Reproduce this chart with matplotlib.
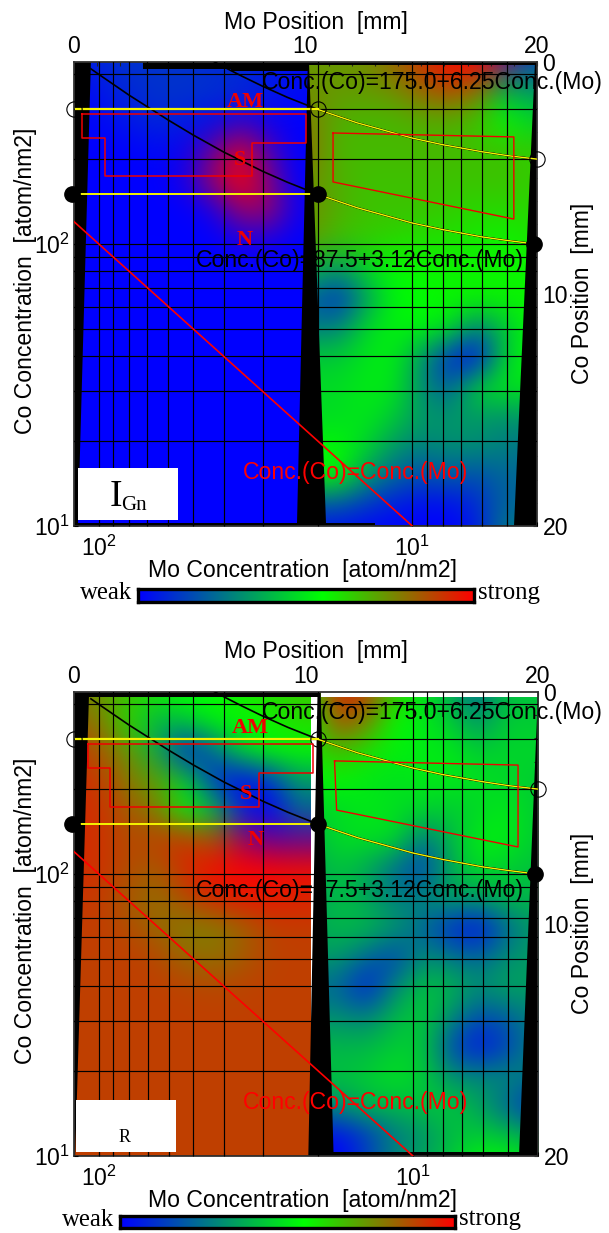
import matplotlib
matplotlib.use("Agg")
import matplotlib.pyplot as plt
from matplotlib.colors import LinearSegmentedColormap, Normalize
from matplotlib.patches import Rectangle
from matplotlib.ticker import LogLocator, NullFormatter, FixedLocator
import numpy as np

plt.rcParams['font.family'] = ['Liberation Sans', 'DejaVu Sans']
plt.rcParams['mathtext.fontset'] = 'custom'
plt.rcParams['mathtext.rm'] = 'Liberation Sans'
plt.rcParams['mathtext.default'] = 'regular'

# ---------- data (heat: 0 blue, .5 green, 1 red, 1..2 red through purple back to blue)
HEAT1_LEFT = [
 [.05,.08,.10,.10,.10,.08,.08,.05,.02],
 [0,.05,.08,.10,.10,.10,.08,.06,.02],
 [0,.02,.05,.08,.06,.02,1.85,1.95,0],
 [0,0,0,.02,1.95,1.6,1.15,1.7,0],
 [0,0,0,0,1.9,1.35,1.0,1.5,2.0],
 [0,0,0,0,0,1.9,1.4,1.4,1.95],
 [0,0,0,0,0,0,1.9,1.9,0],
] + [[0]*9 for _ in range(10)]

HEAT1_RIGHT = [
 [.70,.70,.72,.80,.90,1.0,1.0,1.5,.15],
 [.72,.70,.70,.72,.80,.85,.78,.35,.30],
 [.75,.66,.64,.64,.66,.66,.62,.50,.42],
 [.78,.64,.64,.64,.64,.64,.62,.62,.60],
 [.72,.66,.62,.62,.62,.62,.62,.62,.60],
 [.72,.66,.62,.62,.62,.60,.58,.58,.58],
 [.70,.62,.60,.58,.56,.56,.54,.52,.55],
 [.40,.30,.42,.50,.52,.52,.52,.52,.52],
 [.20,.08,.30,.48,.50,.52,.52,.52,.52],
 [.25,.25,.42,.48,.48,.45,.25,.38,.50],
 [.40,.40,.45,.47,.30,.08,.00,.40,.50],
 [.43,.43,.46,.46,.28,.18,.42,.46,.45],
 [.43,.43,.46,.40,.30,.30,.30,.28,.30],
 [.48,.50,.42,.30,.25,.28,.28,.25,.22],
 [.52,.52,.30,.20,.15,.18,.15,.20,.20],
 [.15,.15,.10,.05,.02,.02,.08,.20,.20],
 [.02,.02,.00,.00,.00,.00,.05,.25,.25],
]

HEAT2_LEFT = [
 [.75,.70,.62,.55,.50,.50,.55,.58,.60],
 [.80,.75,.55,.35,.40,.48,.50,.52,.58],
 [.90,.82,.70,.35,.05,.20,.42,.50,.50],
 [.92,.88,.75,.68,.42,.10,.00,.08,.30],
 [.92,.90,.82,.75,.50,.38,.08,.00,.20],
 [.92,.90,.85,.88,.90,.82,1.35,1.6,1.6],
 [.92,.90,.85,.82,.92,.98,1.0,1.0,.98],
 [.90,.88,.82,.78,.85,.92,.95,.95,.93],
 [.88,.88,.85,.80,.75,.75,.80,.87,.88],
 [.875,.875,.875,.86,.80,.78,.82,.87,.875],
 [.875,.875,.875,.875,.87,.86,.87,.875,.875],
] + [[.875]*9 for _ in range(6)]

HEAT2_RIGHT = [
 [.55,.95,.88,.60,.46,.33,.20,.38,.38],
 [.55,.85,.75,.50,.46,.40,.28,.40,.40],
 [.55,.65,.55,.48,.46,.46,.40,.42,.42],
 [.48,.50,.46,.44,.46,.46,.44,.42,.40],
 [.42,.42,.46,.44,.42,.40,.42,.46,.40],
 [.35,.44,.44,.44,.22,.36,.47,.47,.40],
 [.33,.38,.33,.20,.12,.33,.44,.40,.38],
 [.30,.38,.33,.25,.27,.33,.30,.36,.36],
 [.33,.36,.36,.30,.20,.08,.02,.20,.30],
 [.30,.30,.20,.12,.28,.24,.20,.28,.31],
 [.20,.20,.05,.27,.38,.36,.28,.33,.31],
 [.28,.28,.25,.36,.40,.28,.15,.18,.26],
 [.36,.36,.36,.40,.40,.15,.03,.12,.26],
 [.38,.38,.40,.45,.40,.28,.27,.28,.24],
 [.28,.28,.36,.36,.38,.40,.32,.20,.08],
 [.02,.02,.10,.24,.28,.36,.40,.38,.33],
 [.00,.00,.15,.28,.33,.40,.50,.50,.45],
]

MO_HIGH = [45, 40, 35, 30, 25, 20, 15, 10, 8, 6, 5, 4]
CO_HIGH = [456, 425, 394, 362.5, 331, 300, 269, 237.5, 225, 212.5, 206, 200]
MO_LOW = [106, 100, 80, 60, 50, 40, 30, 25, 20, 15, 10, 8, 6, 5, 4.35]
CO_LOW = [418, 399.5, 337, 275, 243.5, 212, 181, 165.5, 150, 134.5, 118.7, 112.5, 106, 103, 101]
MO_YELLOW_HIGH = [20, 15, 10, 8, 6, 5, 4]
CO_YELLOW_HIGH = [300, 269, 237.5, 225, 212.5, 206, 200]
MO_YELLOW_LOW = [20, 15, 10, 8, 6, 5, 4.35]
CO_YELLOW_LOW = [150, 134.5, 118.7, 112.5, 106, 103, 101]
MO_EQUAL = [120, 10]
CO_EQUAL = [120, 10]
MO_OPEN = [120, 20, 4]
CO_OPEN = [300, 300, 200]
MO_FILLED = [122, 20, 4.1]
CO_FILLED = [150, 150, 100]

REGION1_A = [(.35,2.24),(10.02,2.24),(10.02,3.49),(7.69,3.49),(7.69,4.91),(1.34,4.91),(1.34,3.28),(.35,3.28),(.35,2.24)]
REGION1_B = [(11.19,3.06),(19.0,3.23),(19.0,6.77),(11.19,5.17),(11.19,3.06)]
REGION2_A = [(.6,2.24),(10.32,2.24),(10.32,3.49),(7.99,3.49),(7.99,4.96),(1.56,4.96),(1.56,3.28),(.6,3.28),(.6,2.24)]
REGION2_B = [(11.23,2.97),(19.14,3.15),(19.14,6.68),(11.32,5.09),(11.23,2.97)]

MASK1 = [
 [(0,0),(.73,0),(.17,20),(0,20)],
 [(10.1,0),(10.15,0),(10.89,20),(9.63,20)],
 [(19.91,0),(20,0),(20,20),(19.0,20)],
 [(0,0),(3,0),(3,.30),(6.8,.30),(6.8,.38),(10.1,.38),(10.1,0)],
 [(10.1,0),(20,0),(20,.12),(10.1,.12)],
 [(0,19.87),(13.0,19.87),(13.0,19.95),(20,19.95),(20,20),(0,20)],
]
MASK2 = [
 [(0,0),(.65,0),(.05,20),(0,20)],
 [(10.5,0),(10.63,0),(11.19,20),(10.1,20)],
 [(19.98,0),(20,0),(20,20),(19.18,20)],
 [(0,0),(10.6,0),(10.6,.22),(0,.22)],
 [(10.6,19.82),(20,19.82),(20,20),(10.6,20)],
]
WHITE2 = [[(10.63,0),(20,0),(20,.2),(10.63,.2)]]

# ---------- helpers
W, H = 609, 1233
fig = plt.figure(figsize=(W/100, H/100), dpi=100, facecolor='white')
HEAT_CMAP = LinearSegmentedColormap.from_list('heat', [(0,(0,0,1)),(.25,(0,1,0)),(.5,(1,0,0)),(1,(0,0,1))], N=1024)
BAR_CMAP = LinearSegmentedColormap.from_list('bar', [(0,(0,0,1)),(.55,(0,1,0)),(1,(1,0,0))], N=512)
SANS = 16.6
SERIF = ['Liberation Serif']

def px_axes(l, t, r, b, **kw):
    return fig.add_axes([l/W, 1-b/H, (r-l)/W, (b-t)/H], **kw)

def txt(x, y, s, **kw):
    kw.setdefault('ha', 'center'); kw.setdefault('va', 'center')
    kw.setdefault('fontsize', SANS); kw.setdefault('zorder', 10)
    return fig.text(x/W, 1-y/H, s, **kw)

def panel(top, right_px, left_heat, right_heat, split, masks, whites, reg_a, reg_b, box, box_text,
          labels, yellow_x0, bar, top_spine='#333333'):
    bottom = top + 464
    ax = px_axes(74, top, right_px, bottom, zorder=1)
    norm = Normalize(0, 2)
    dx, dy = 1.2, 1.275
    for heat, x0, clip in ((right_heat, 10.2, (split, 20)), (left_heat, 0.0, (0, split))):
        im = ax.imshow(np.array(heat, float), cmap=HEAT_CMAP, norm=norm, aspect='auto', origin='upper',
                       interpolation='bicubic', interpolation_stage='rgba',
                       extent=[x0-dx/2, x0+8*dx+dx/2, 16*dy+dy/2, -dy/2])
        im.set_clip_path(Rectangle((clip[0], 0), clip[1]-clip[0], 20, transform=ax.transData))
    for poly in masks:
        ax.fill(*zip(*poly), color='black', lw=0, zorder=3)
    for poly in whites:
        ax.fill(*zip(*poly), color='white', lw=0, zorder=3.5)
    ax.set_xlim(0, 20); ax.set_ylim(20, 0)
    ax.xaxis.tick_top(); ax.yaxis.tick_right()
    ax.set_xticks([0, 10, 20]); ax.set_yticks([0, 10, 20])
    ax.set_xticks(np.arange(0, 21), minor=True); ax.set_yticks(np.arange(0, 21), minor=True)
    ax.tick_params(which='both', direction='in', length=3, width=.8, color='#222222', labelsize=SANS, zorder=6)
    ax.tick_params(axis='x', which='major', pad=3)
    ax.tick_params(axis='y', which='major', pad=4)
    for s in ax.spines.values():
        s.set_color(top_spine); s.set_linewidth(1.3); s.set_zorder(6)

    lg = px_axes(74, top, right_px, bottom, zorder=2, facecolor='none')
    lg.set_xscale('log'); lg.set_yscale('log')
    lg.set_xlim(120, 4); lg.set_ylim(10, 442)
    lg.xaxis.set_major_locator(FixedLocator([100, 10]))
    lg.yaxis.set_major_locator(FixedLocator([100, 10]))
    for a in (lg.xaxis, lg.yaxis):
        a.set_minor_locator(LogLocator(base=10, subs=np.arange(2, 10), numticks=20))
        a.set_minor_formatter(NullFormatter())
    lg.grid(True, which='both', color='black', lw=.85)
    lg.set_axisbelow(False)
    lg.tick_params(which='both', direction='in', length=3, width=.8, labelsize=SANS)
    lg.tick_params(axis='x', which='major', pad=7)
    lg.tick_params(axis='y', which='major', pad=3)
    for s in lg.spines.values():
        s.set_visible(False)
    lg.plot(MO_EQUAL, CO_EQUAL, color='red', lw=1.2, zorder=5)
    lg.plot(MO_HIGH, CO_HIGH, color='black', lw=1.2, zorder=5)
    lg.plot(MO_LOW, CO_LOW, color='black', lw=1.2, zorder=5)
    lg.plot(MO_YELLOW_HIGH, CO_YELLOW_HIGH, color='black', lw=1.2, zorder=5)
    lg.plot(MO_YELLOW_LOW, CO_YELLOW_LOW, color='black', lw=1.2, zorder=5)
    lg.plot([yellow_x0, 20], [300, 300], color='#f5f500', lw=1.6, zorder=6)
    lg.plot([yellow_x0, 20], [150, 150], color='#f5f500', lw=1.4, zorder=6)
    lg.plot(MO_YELLOW_HIGH, CO_YELLOW_HIGH, color='#f5f500', lw=1.0, zorder=6)
    lg.plot(MO_YELLOW_LOW, CO_YELLOW_LOW, color='#f5f500', lw=1.0, zorder=6)
    lg.plot(MO_OPEN, CO_OPEN, 'o', ms=11, mfc='none', mec='black', mew=.8, clip_on=False, zorder=7)
    lg.plot(MO_FILLED, CO_FILLED, 'o', ms=11, mfc='black', mec='black', clip_on=False, zorder=7)
    # regions drawn on the position scale
    ov = px_axes(74, top, right_px, bottom, zorder=3, facecolor='none')
    ov.set_xlim(0, 20); ov.set_ylim(20, 0); ov.axis('off')
    ov.plot(*zip(*reg_a), color='#f00000', lw=1.1)
    ov.plot(*zip(*reg_b), color='#f00000', lw=1.0)

    # text
    txt(316, top-40, 'Mo Position  [mm]')
    txt(302, bottom+44, 'Mo Concentration  [atom/nm2]')
    txt(26, top+219, 'Co Concentration  [atom/nm2]', rotation=90)
    txt(582, top+231, 'Co Position  [mm]', rotation=90)
    txt(432, top+20, 'Conc.(Co)=175.0+6.25Conc.(Mo)')
    txt(360, top+199, 'Conc.(Co)=87.5+3.12Conc.(Mo)')
    txt(356, top+410, 'Conc.(Co)=Conc.(Mo)', color='red')
    for (x, y, s) in labels:
        txt(x, y, s, color='#f00000', family=SERIF, fontweight='bold', fontsize=16)
    l, t, r, b = box
    fig.add_artist(Rectangle((l/W, 1-b/H), (r-l)/W, (b-t)/H, transform=fig.transFigure,
                             facecolor='white', edgecolor='none', zorder=8))
    box_text()
    # colour bar
    bl, bt, br, bb = bar
    cb = px_axes(bl+1.5, bt+1.5, br-1.5, bb-1.5, zorder=4)
    cb.imshow(np.linspace(0, 1, 512)[None, :], cmap=BAR_CMAP, aspect='auto')
    cb.set_xticks([]); cb.set_yticks([])
    for s in cb.spines.values():
        s.set_linewidth(2.4); s.set_color('black')
    txt(bl-4, (bt+bb)/2-2, 'weak', ha='right', family=SERIF, fontsize=17.8)
    txt(br+3, (bt+bb)/2-2, 'strong', ha='left', family=SERIF, fontsize=17.8)

def igen():
    txt(116, 497, 'I', family=SERIF, fontsize=27)
    txt(134, 505, 'Gn', family=SERIF, fontsize=15)

def rlabel():
    txt(125, 1138, 'R', family=SERIF, fontsize=13)

panel(62, 537, HEAT1_LEFT, HEAT1_RIGHT, 10.12, MASK1, [], REGION1_A, REGION1_B,
      (78, 468, 178, 520), igen, [(245, 102, 'AM'), (240, 160, 'S'), (245, 240, 'N')], 118, (136, 587, 475, 603))
panel(692, 538, HEAT2_LEFT, HEAT2_RIGHT, 10.55, MASK2, WHITE2, REGION2_A, REGION2_B,
      (76, 1100, 176, 1152), rlabel, [(250, 728, 'AM'), (246, 794, 'S'), (256, 840, 'N')], 118, (118, 1214, 456, 1229))

fig.savefig('out.png', dpi=100, facecolor='white')
